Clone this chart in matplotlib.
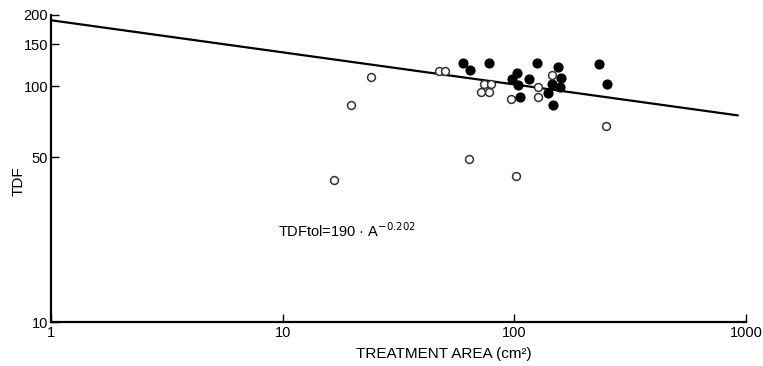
import matplotlib
matplotlib.use("Agg")
import matplotlib.pyplot as plt

plt.rcParams['font.family'] = ['Liberation Sans', 'DejaVu Sans']

# Filled circles
filled_x = [59.8, 64.1, 77.9, 125.2, 153.8, 231.8, 102.3, 97.6, 115.3, 158.4,
            103.9, 144.9, 157.3, 251.8, 105.7, 139.6, 146.8]
filled_y = [125.6, 117.3, 125.6, 125.6, 120.4, 124.3, 113.9, 106.8, 106.8, 108.1,
            100.7, 101.7, 98.7, 101.7, 90.1, 93.7, 83.3]

# Open circles
open_x = [24.0, 19.7, 47.1, 50.3, 74.1, 79.0, 71.8, 77.7, 96.6, 126.0,
          126.0, 144.9, 249.2, 63.7, 101.3, 16.6]
open_y = [109.2, 83.3, 115.4, 115.4, 101.7, 101.7, 94.6, 94.6, 88.1, 99.3,
          89.8, 111.0, 67.7, 49.2, 41.6, 40.1]

# Fitted line (as drawn)
line_x = [1, 930]
line_y = [190, 75]

xticks = [1, 10, 100, 1000]
yticks = [10, 50, 100, 150, 200]

fig = plt.figure(figsize=(7.63, 3.66), dpi=100)
ax = fig.add_axes([51/763, 1-322/366, (746-51)/763, (322-15)/366])
ax.set_xscale('log')
ax.set_yscale('log')
ax.set_xlim(1, 1000)
ax.set_ylim(10, 200)

ax.plot(line_x, line_y, color='black', lw=1.6, solid_capstyle='butt')
ax.scatter(filled_x, filled_y, s=40, facecolor='black', edgecolor='black', lw=1.0, zorder=3)
ax.scatter(open_x, open_y, s=32, facecolor='white', edgecolor='#333333', lw=1.1, zorder=3)

ax.spines['top'].set_visible(False)
ax.spines['right'].set_visible(False)
ax.spines['left'].set_linewidth(1.6)
ax.spines['bottom'].set_linewidth(1.6)

ax.set_xticks(xticks)
ax.set_xticklabels([str(v) for v in xticks])
ax.set_yticks(yticks)
ax.set_yticklabels([str(v) for v in yticks])
ax.minorticks_off()
ax.tick_params(axis='both', direction='in', length=6, width=1.0, labelsize=10.5, pad=2)
ax.tick_params(axis='x', pad=3)

ax.set_ylabel('TDF', fontsize=11)
ax.yaxis.set_label_coords(-0.036, 0.46)
ax.set_xlabel('TREATMENT AREA (cm²)', fontsize=11)
ax.xaxis.set_label_coords(0.565, -0.082)

ax.text(0.327, 0.296, r'TDFtol=190 · A$^{-0.202}$', transform=ax.transAxes,
        fontsize=10.5, ha='left', va='center')

fig.savefig('out.png', dpi=100)
